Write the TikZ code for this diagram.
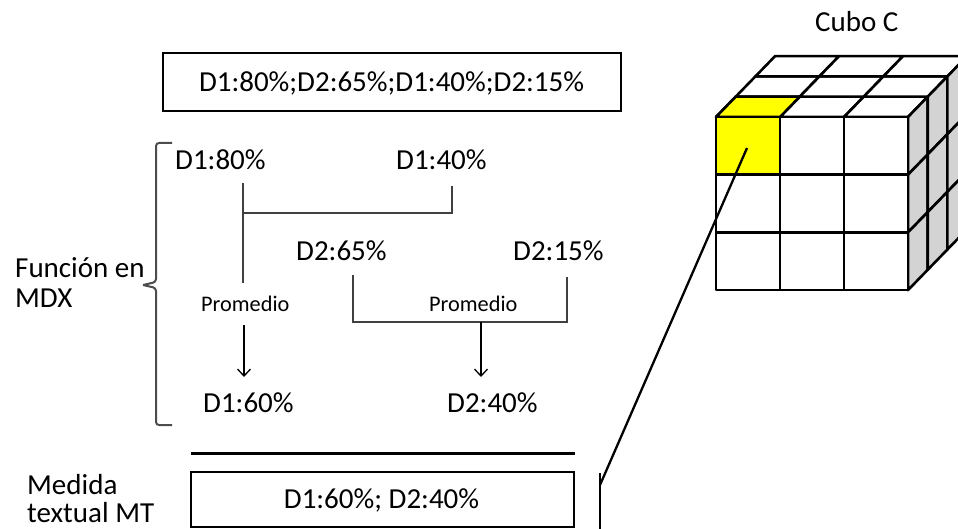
\documentclass[tikz,border=0pt]{standalone}
\usepackage{fontspec}
\setmainfont{Carlito}
\usetikzlibrary{arrows.meta}
\definecolor{cubegray}{HTML}{D3D3D3}
\definecolor{cellyellow}{HTML}{FFFF00}
\definecolor{linkgray}{HTML}{404040}
\begin{document}
\begin{tikzpicture}[x=1pt,y=-1pt,
  lbl/.style={font=\fontsize{29}{31}\selectfont, inner sep=0pt, anchor=base west},
  small/.style={font=\fontsize{22.3}{24}\selectfont, inner sep=0pt, anchor=base west},
  frame/.style={draw=black, line width=2.9pt, inner sep=0pt},
  conn/.style={draw=linkgray, line width=1.5pt},
  arr/.style={draw=black, line width=1.3pt, -{Straight Barb[length=7pt,width=13pt]}},
  cubeline/.style={draw=black, line width=2.6pt, line join=round},
  bracecol/.style={draw=black!70, line width=2pt, rounded corners=3pt}]

\useasboundingbox (0,0) rectangle (958,529);

% sequence of measures
\node[frame, minimum width=458pt, minimum height=58pt] (seqbox) at (392,82) {};
\node[lbl, anchor=base] (seq) at (391.5,92) {D1:80\%;D2:65\%;D1:40\%;D2:15\%};

% side labels
\node[lbl] (fun1) at (15,277) {Función en};
\node[lbl] (fun2) at (15,307) {MDX};
\node[lbl] (med1) at (27,494) {Medida};
\node[lbl] (med2) at (27,522) {textual MT};
\node[lbl] (cubo) at (815,32) {Cubo C};

% values
\node[lbl] (a1) at (175,170) {D1:80\%};
\node[lbl] (a2) at (396,170) {D1:40\%};
\node[lbl] (b1) at (296,261) {D2:65\%};
\node[lbl] (b2) at (513,261) {D2:15\%};
\node[small] (pa) at (201,311) {Promedio};
\node[small] (pb) at (429,311) {Promedio};
\node[lbl] (ra) at (203,412) {D1:60\%};
\node[lbl] (rb) at (447,412) {D2:40\%};

% brace
\coordinate (brt) at (172,143);
\coordinate (brtip) at (143,285);
\coordinate (brb) at (172,425);
\draw[bracecol] (brt) -- (156,143) -- (156,282) -- (brtip);
\draw[bracecol] (brtip) -- (156,288) -- (156,425) -- (brb);

% D1 average
\coordinate (p1top) at (243,183);
\coordinate (p1bot) at (243,283);
\coordinate (p1j) at (243,213);
\coordinate (p1r) at (452,186);
\draw[conn] (p1top) -- (p1bot);
\draw[conn] (p1r) |- (p1j);
\coordinate (p1a) at (244,325);
\coordinate (p1b) at (244,377);
\draw[arr] (p1a) -- (p1b);

% D2 average
\coordinate (p2l) at (353,275);
\coordinate (p2r) at (567,277);
\coordinate (p2j) at (481,322);
\draw[conn] (p2l) |- (p2r |- p2j) -- (p2r);
\coordinate (p2b) at (481,377);
\draw[arr] (p2j) -- (p2b);

% result
\draw[black, line width=3pt] (191,453) -- (575,453);
\node[frame, minimum width=383pt, minimum height=55pt] (resbox) at (382.5,499.5) {};
\node[lbl, anchor=base] (res) at (381.5,508) {D1:60\%; D2:40\%};

% cube
\begin{scope}
\clip (690,40) rectangle (958,300);
\foreach \r in {0,1,2} \foreach \c in {0,1,2} {
  \draw[cubeline, fill=white] (716+64*\c+19.7*\r, 117-20.3*\r) -- ++(64,0) -- ++(19.7,-20.3) -- ++(-64,0) -- cycle;
}
\fill[cellyellow] (716,117) -- ++(64,0) -- ++(19.7,-20.3) -- ++(-64,0) -- cycle;
\draw[cubeline] (716,117) -- ++(64,0) -- ++(19.7,-20.3) -- ++(-64,0) -- cycle;
\foreach \r in {0,1,2} \foreach \j in {0,1,2} {
  \draw[cubeline, fill=cubegray] (908+19.7*\r, 117+57.7*\j-20.3*\r) -- ++(0,57.7) -- ++(19.7,-20.3) -- ++(0,-57.7) -- cycle;
}
\foreach \c in {0,1,2} \foreach \j in {0,1,2} {
  \draw[cubeline, fill=white] (716+64*\c, 117+57.7*\j) rectangle ++(64,57.7);
}
\node[cubeline, fill=cellyellow, minimum width=64pt, minimum height=57.7pt, inner sep=0pt] (cell) at (748,145.85) {};
\end{scope}

% link from the cell to the measure
\coordinate (hit) at (747,148);
\coordinate (mt) at (600,485);
\coordinate (vt) at (600,473);
\coordinate (vb) at (600,529);
\draw[black, line width=2.3pt] (vt) -- (vb);
\draw[black, line width=2.3pt] (hit) -- (mt);

\end{tikzpicture}
\end{document}
